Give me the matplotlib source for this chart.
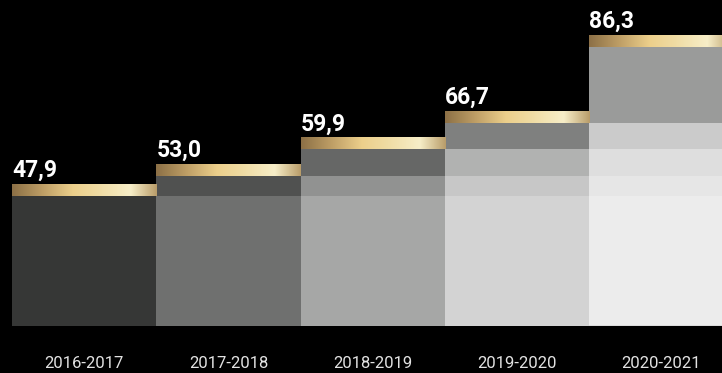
import numpy as np
import matplotlib
matplotlib.use("Agg")
import matplotlib.pyplot as plt
from matplotlib.colors import LinearSegmentedColormap

periods = ["2016-2017", "2017-2018", "2018-2019", "2019-2020", "2020-2021"]
values = [47.9, 53.0, 59.9, 66.7, 86.3]
labels = ["47,9", "53,0", "59,9", "66,7", "86,3"]

# shades per bar, from bottom band up to own band
shades = [
    ["#363736"],
    ["#6f706f", "#505150"],
    ["#a6a7a6", "#919291", "#666766"],
    ["#d3d3d3", "#c7c7c7", "#b1b2b1", "#7f807f"],
    ["#ececec", "#e6e6e6", "#dedede", "#cbcbcb", "#9a9b9a"],
]

gold = LinearSegmentedColormap.from_list("gold", [
    (0.0, "#8c7046"), (0.2, "#bc9c64"), (0.42, "#eccf8b"),
    (0.6, "#f0dca4"), (0.82, "#f7eec8"), (1.0, "#b99d6a")])

fig = plt.figure(figsize=(7.22, 3.73), dpi=100, facecolor="black")
ax = fig.add_axes([0, 47 / 373, 1, 326 / 373])
ax.set_facecolor("black")

base = 14.6
px = 3.898  # pixels per unit
ax.set_ylim(base, base + 326 / px)
ax.set_xlim(-0.583, 4.42)

cap = 11.5 / px
grad = np.linspace(0, 1, 256).reshape(1, -1)

for i, v in enumerate(values):
    bottoms = [base] + values[:i]
    tops = values[:i + 1]
    for b, t, c in zip(bottoms, tops, shades[i]):
        ax.bar(i, t - b, bottom=b, width=1.0, color=c, linewidth=0)
    ax.imshow(grad, cmap=gold, aspect="auto", zorder=3,
              extent=[i - 0.5, i + 0.5, v, v + cap])
    ax.annotate(labels[i], (i - 0.5, v + cap), xytext=(0, 5.5),
                textcoords="offset points", ha="left", va="baseline",
                color="white", fontsize=16.5, fontweight="bold",
                family="Roboto")

ax.plot([3.5, 4.5], [base, base], color="#9a9a9a", lw=1, zorder=4)

for i, p in enumerate(periods):
    ax.text(i, base - 30 / px, p, ha="center", va="top",
            color="#e2e2e2", fontsize=12, family="Roboto")

ax.set_axis_off()
fig.savefig("out.png", dpi=100, facecolor="black")
